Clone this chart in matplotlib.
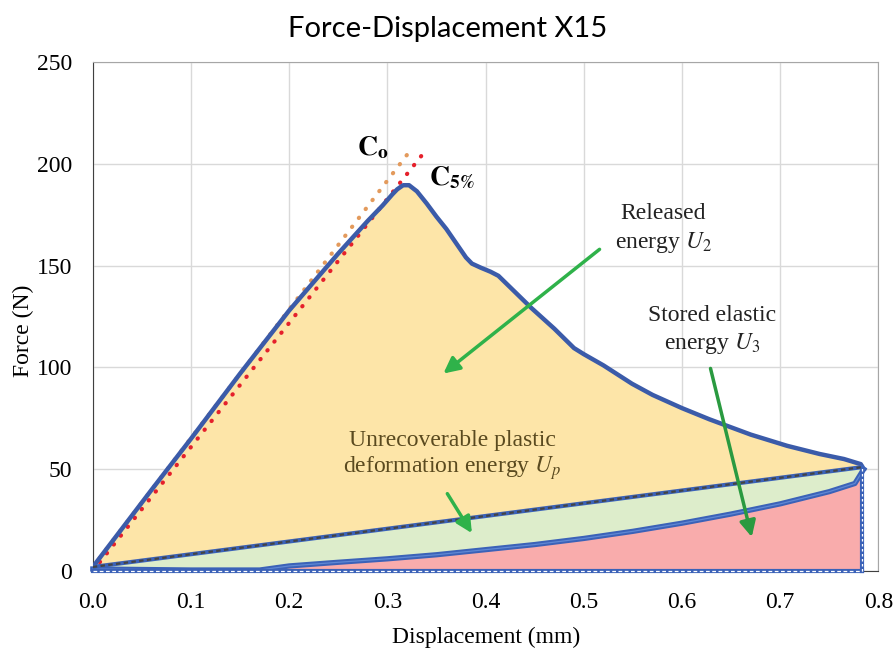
import numpy as np
import matplotlib
matplotlib.use("Agg")
import matplotlib.pyplot as plt

# loading curve (displacement mm, force N)
load_x = [0.0, 0.03, 0.06, 0.10, 0.15, 0.20, 0.25, 0.28, 0.295, 0.305, 0.31, 0.316,
          0.322, 0.33, 0.34, 0.35, 0.36, 0.37, 0.38, 0.386, 0.395, 0.405, 0.413,
          0.43, 0.447, 0.47, 0.49, 0.50, 0.52, 0.549, 0.57, 0.60, 0.628, 0.67,
          0.707, 0.74, 0.765, 0.782, 0.785]
load_f = [2, 21, 40, 65, 97, 128, 156, 172, 179.5, 185, 187.5, 189.5,
          189.5, 186.5, 180.5, 174, 168, 161, 154, 151, 149, 147, 145,
          137, 129, 119, 109.5, 106.5, 101, 92, 86.5, 80, 74.5, 67,
          61.5, 57.5, 55, 52.5, 50]

# unloading curve, ascending displacement
unload_x = [0.0, 0.10, 0.17, 0.20, 0.25, 0.30, 0.35, 0.40, 0.45, 0.50, 0.55,
            0.60, 0.65, 0.70, 0.75, 0.776, 0.785]
unload_f = [1, 0.5, 0.5, 2.5, 4.3, 6, 8, 10.5, 13, 16, 19.5,
            23.5, 28, 33, 39, 43, 50]

# straight chord (plastic deformation boundary)
chord_x = [0.0, 0.783]
chord_f = [2, 51]

# compliance lines
c0_x = [0.0, 0.324]
c0_f = [2, 207]
c5_x = [0.0, 0.338]
c5_f = [0, 206]

x_ticks = [0.0, 0.1, 0.2, 0.3, 0.4, 0.5, 0.6, 0.7, 0.8]
y_ticks = [0, 50, 100, 150, 200, 250]

plt.rcParams['font.family'] = ['Liberation Serif', 'DejaVu Serif']
plt.rcParams['mathtext.fontset'] = 'stix'

fig = plt.figure(figsize=(8.96, 6.55), dpi=100)
ax = fig.add_axes([0.1036, 0.1282, 0.9804 - 0.1036, 0.9053 - 0.1282])

# filled energy regions
ax.fill(list(load_x) + chord_x[::-1], list(load_f) + chord_f[::-1],
        color='#fde5a8', lw=0, zorder=1)
ax.fill(chord_x + unload_x[::-1], chord_f + unload_f[::-1],
        color='#ddedcb', lw=0, zorder=1)
ax.fill(unload_x + [unload_x[-1], unload_x[0]], unload_f + [0, 0],
        color='#f9acac', lw=0, zorder=1)

# compliance lines
ax.plot(c0_x, c0_f, color='#e39a5c', lw=3, ls=(0, (0.1, 2.6)),
        dash_capstyle='round', zorder=4)
ax.plot(c5_x, c5_f, color='#e5202b', lw=3, ls=(0, (0.1, 2.6)),
        dash_capstyle='round', zorder=4)

# curves
ax.plot(load_x, load_f, color='#3b5ba9', lw=3.2, zorder=5, solid_joinstyle='round')
ax.plot(unload_x, unload_f, color='#3b62b8', lw=3.8, zorder=5, clip_on=False,
        solid_joinstyle='round')
ax.plot(unload_x, unload_f, color='#5f88d4', lw=0.9, zorder=5, clip_on=False)

ax.plot(chord_x, chord_f, color='#3b62b8', lw=3, zorder=5)
ax.plot(chord_x, chord_f, color='#444444', lw=1.6, ls=(0, (2, 1.5)), zorder=6)

ax.plot([0, chord_x[1]], [0, 0], color='#3b62b8', lw=3, zorder=5, clip_on=False)
ax.plot([0, chord_x[1]], [0, 0], color='white', lw=0.9, ls=(0, (3, 2)), zorder=6,
        clip_on=False)
ax.plot([chord_x[1], chord_x[1]], [0, chord_f[1]], color='#3b62b8', lw=3, zorder=5,
        clip_on=False)
ax.plot([chord_x[1], chord_x[1]], [0, chord_f[1]], color='white', lw=0.9,
        ls=(0, (2, 2)), zorder=6, clip_on=False)

# labels
ax.text(0.285, 208, r'$\mathbf{C_o}$', fontsize=20, ha='center', va='center', zorder=7)
ax.text(0.366, 193, r'$\mathbf{C_{5\%}}$', fontsize=20, ha='center', va='center', zorder=7)

ax.text(0.581, 168, 'Released\nenergy $U_2$', fontsize=17, ha='center', va='center',
        linespacing=1.3, color='#222222', zorder=7)
ax.text(0.631, 118, 'Stored elastic\nenergy $U_3$', fontsize=17, ha='center',
        va='center', linespacing=1.3, color='#222222', zorder=7)
ax.text(0.366, 56.5, 'Unrecoverable plastic\ndeformation energy $U_p$', fontsize=17,
        ha='center', va='center', linespacing=1.2, color='#5a4a1f', zorder=7)

arrow_kw = dict(arrowstyle='-|>', lw=2.5, mutation_scale=24, shrinkA=0, shrinkB=0)
ax.annotate('', xy=(0.357, 97), xytext=(0.516, 158),
            arrowprops=dict(color='#2fb24a', **arrow_kw), zorder=8)
ax.annotate('', xy=(0.671, 16.7), xytext=(0.629, 99.5),
            arrowprops=dict(color='#2a9a40', **arrow_kw), zorder=8)
ax.annotate('', xy=(0.386, 18.6), xytext=(0.361, 38),
            arrowprops=dict(color='#2fb24a', **arrow_kw), zorder=8)

# axes styling
ax.set_xlim(0, 0.8)
ax.set_ylim(0, 250)
ax.set_xticks(x_ticks)
ax.set_xticklabels([f'{v:.1f}' for v in x_ticks])
ax.set_yticks(y_ticks)
ax.tick_params(labelsize=17, length=0)
ax.tick_params(axis='x', pad=15)
ax.tick_params(axis='y', pad=15)
ax.grid(True, color='#d9d9d9', lw=1, zorder=0)
ax.set_axisbelow(True)
for side in ['top', 'right']:
    ax.spines[side].set_color('#a6a6a6')
for side in ['left', 'bottom']:
    ax.spines[side].set_color('#404040')

ax.set_xlabel('Displacement (mm)', fontsize=17, labelpad=10)
fig.text(23 / 896, 1 - 331 / 655, 'Force (N)', fontsize=17, rotation=90,
         ha='center', va='center')
fig.suptitle('Force-Displacement X15', fontsize=21, family='Lato', y=0.975)

fig.savefig('out.png', dpi=100)
